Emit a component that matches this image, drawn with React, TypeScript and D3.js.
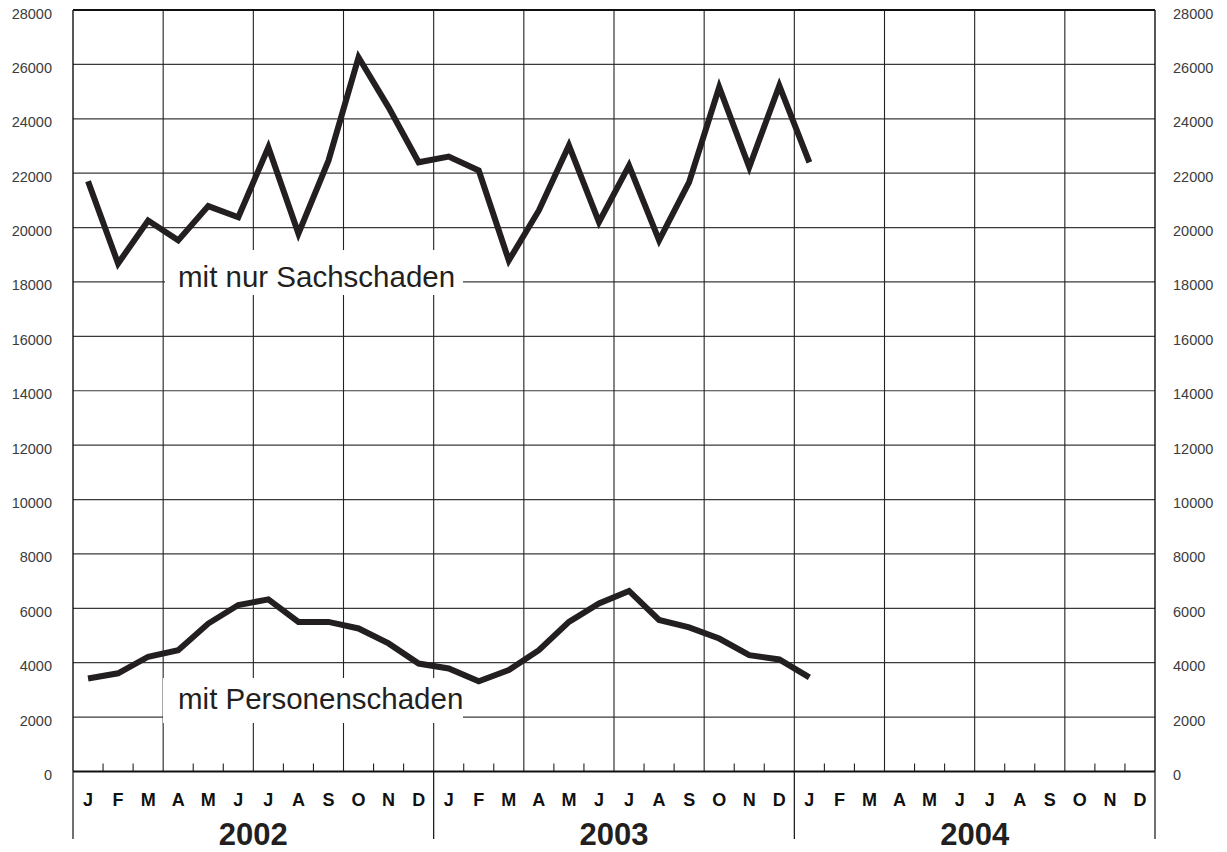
import React from "react";
import * as d3 from "d3";

const monthLabels = ["J", "F", "M", "A", "M", "J", "J", "A", "S", "O", "N", "D"];
const years = ["2002", "2003", "2004"];
const yTicks = [0, 2000, 4000, 6000, 8000, 10000, 12000, 14000, 16000, 18000, 20000, 22000, 24000, 26000, 28000];

// Jan 2002 .. Jan 2004
const sachschaden = [
  21700, 18680, 20260, 19530, 20790, 20380, 22950, 19780, 22460, 26260, 24420, 22400,
  22610, 22100, 18790, 20630, 23020, 20200, 22280, 19530, 21670, 25160, 22220, 25220,
  22400,
];
const personenschaden = [
  3420, 3610, 4220, 4460, 5440, 6120, 6330, 5500, 5500, 5260, 4710, 3970,
  3790, 3320, 3730, 4460, 5500, 6180, 6640, 5570, 5300, 4890, 4280, 4120,
  3460,
];

const W = 1227;
const H = 852;
const left = 73;
const right = 1155;
const top = 10;
const bottom = 771.5;

export default function App() {
  const x = d3.scaleLinear().domain([0, 36]).range([left, right]);
  const y = d3.scaleLinear().domain([0, 28000]).range([bottom, top]);
  const line = d3
    .line<number>()
    .x((_, i) => x(i + 0.5))
    .y((d) => y(d));

  const months = d3.range(36);
  const ink = "#231f20";
  const font = "'Liberation Sans', Arial, Helvetica, sans-serif";

  return (
    <svg
      width={W}
      height={H}
      viewBox={`0 0 ${W} ${H}`}
      style={{ position: "absolute", left: 0, top: 0, background: "#fff" }}
      fontFamily={font}
    >
      <rect x={0} y={0} width={W} height={H} fill="#fff" />
      {/* horizontal gridlines */}
      {yTicks.slice(1, -1).map((t) => (
        <line key={"h" + t} x1={left} x2={right} y1={y(t)} y2={y(t)} stroke="#3a3a3a" strokeWidth={1.2} />
      ))}
      {/* vertical quarter gridlines */}
      {d3.range(3, 36, 3).map((m) => (
        <line key={"v" + m} x1={x(m)} x2={x(m)} y1={top} y2={bottom} stroke="#222" strokeWidth={1.1} />
      ))}
      {/* minor month ticks */}
      {months
        .filter((m) => m % 3 !== 0)
        .map((m) => (
          <line key={"t" + m} x1={x(m)} x2={x(m)} y1={bottom - 8} y2={bottom} stroke="#222" strokeWidth={1.1} />
        ))}
      {/* frame */}
      <line x1={left} x2={right} y1={top} y2={top} stroke="#111" strokeWidth={1.8} />
      <line x1={left} x2={right} y1={bottom} y2={bottom} stroke="#111" strokeWidth={2} />
      <line x1={left} x2={left} y1={top} y2={bottom} stroke="#111" strokeWidth={1.4} />
      <line x1={right} x2={right} y1={top} y2={bottom} stroke="#111" strokeWidth={1.4} />
      {/* year separators below axis */}
      {[0, 12, 24, 36].map((m) => (
        <line key={"ys" + m} x1={x(m)} x2={x(m)} y1={bottom} y2={839} stroke="#111" strokeWidth={1.2} />
      ))}

      {/* label boxes */}
      <rect x={165} y={250} width={298} height={45} fill="#fff" />
      <rect x={163} y={678} width={300} height={45} fill="#fff" />

      {/* series */}
      <path d={line(sachschaden) || ""} fill="none" stroke={ink} strokeWidth={6} strokeLinejoin="miter" strokeMiterlimit={10} />
      <path d={line(personenschaden) || ""} fill="none" stroke={ink} strokeWidth={6} strokeLinejoin="miter" strokeMiterlimit={10} />

      {/* series labels */}
      <text x={178} y={287} fontSize={29.5} fill={ink}>mit nur Sachschaden</text>
      <text x={178} y={709} fontSize={29.5} fill={ink}>mit Personenschaden</text>

      {/* y tick labels */}
      {yTicks.map((t) => (
        <g key={"yl" + t}>
          <text x={52} y={y(t) + 8.5} fontSize={14.5} fill="#3c3c3c" textAnchor="end">{t}</text>
          <text x={1173} y={y(t) + 8.5} fontSize={14.5} fill="#3c3c3c" textAnchor="start">{t}</text>
        </g>
      ))}

      {/* month labels */}
      {months.map((m) => (
        <text key={"ml" + m} x={x(m + 0.5)} y={806} fontSize={18} fontWeight="bold" fill="#111" textAnchor="middle">
          {monthLabels[m % 12]}
        </text>
      ))}
      {/* year labels */}
      {years.map((yr, i) => (
        <text key={yr} x={x(i * 12 + 6)} y={845} fontSize={31} fontWeight="bold" fill={ink} textAnchor="middle">
          {yr}
        </text>
      ))}
    </svg>
  );
}
